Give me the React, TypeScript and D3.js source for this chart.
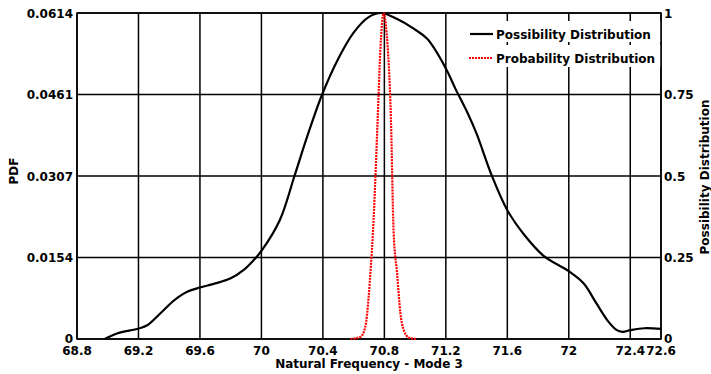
import React from "react";
import * as d3 from "d3";

const xTicks = [68.8, 69.2, 69.6, 70, 70.4, 70.8, 71.2, 71.6, 72, 72.4, 72.6];
const xTickLabels = ["68.8", "69.2", "69.6", "70", "70.4", "70.8", "71.2", "71.6", "72", "72.4", "72.6"];
const leftTicks = [0, 0.01535, 0.0307, 0.04605, 0.0614];
const leftTickLabels = ["0", "0.0154", "0.0307", "0.0461", "0.0614"];
const rightTicks = [0, 0.25, 0.5, 0.75, 1];
const rightTickLabels = ["0", "0.25", "0.5", "0.75", "1"];

// Possibility distribution (right axis)
const possFreq = [68.98, 69.06, 69.2, 69.257, 69.343, 69.43, 69.517, 69.6, 69.69, 69.8, 69.885, 69.95, 70.0, 70.12, 70.215, 70.297, 70.395, 70.5, 70.6, 70.7, 70.78, 70.88, 70.98, 71.08, 71.2, 71.262, 71.34, 71.4, 71.5, 71.6, 71.706, 71.836, 72.0, 72.096, 72.18, 72.25, 72.31, 72.35, 72.4, 72.49, 72.6];
const possValues = [0, 0.017, 0.032, 0.042, 0.079, 0.118, 0.145, 0.158, 0.169, 0.186, 0.212, 0.242, 0.27, 0.365, 0.5, 0.62, 0.75, 0.86, 0.94, 0.988, 1.0, 0.982, 0.955, 0.92, 0.83, 0.768, 0.695, 0.63, 0.5, 0.395, 0.322, 0.255, 0.208, 0.171, 0.109, 0.058, 0.028, 0.022, 0.027, 0.033, 0.031];

// Probability distribution PDF (left axis)
const probFreq = [70.58, 70.645, 70.676, 70.698, 70.713, 70.726, 70.756, 70.774, 70.795, 70.815, 70.843, 70.86, 70.883, 70.904, 70.926, 70.958, 71.01];
const probValues = [0, 0.0004, 0.0023, 0.008, 0.0141, 0.0203, 0.0411, 0.0545, 0.0614, 0.0575, 0.0411, 0.0203, 0.0123, 0.0049, 0.0017, 0.0003, 0];

const FONT = "'DejaVu Sans', Verdana, sans-serif";

export default function App() {
  const left = 77, right = 661, top = 13, bottom = 339;
  const x = d3.scaleLinear().domain([68.8, 72.6]).range([left, right]);
  const yL = d3.scaleLinear().domain([0, 0.0614]).range([bottom, top]);
  const yR = d3.scaleLinear().domain([0, 1]).range([bottom, top]);

  const possLine = d3
    .line<number>()
    .x((_, i) => x(possFreq[i]))
    .y((d) => Math.min(bottom, Math.max(top, yR(d))))
    .curve(d3.curveCatmullRom.alpha(0.5))(possValues) as string;
  const probLine = d3
    .line<number>()
    .x((_, i) => x(probFreq[i]))
    .y((d) => yL(d))
    .curve(d3.curveMonotoneX)(probValues) as string;

  return (
    <svg
      width={711}
      height={374}
      style={{ position: "fixed", left: 0, top: 0, background: "#fff" }}
      fontFamily={FONT}
      fontWeight="bold"
      fontSize={12}
    >
      <rect x={0} y={0} width={711} height={374} fill="#fff" />
      {/* grid */}
      {xTicks.map((t) => (
        <line key={"gx" + t} x1={x(t)} x2={x(t)} y1={top} y2={bottom} stroke="#000" strokeWidth={1.5} />
      ))}
      {leftTicks.map((t) => (
        <line key={"gy" + t} x1={left} x2={right} y1={yL(t)} y2={yL(t)} stroke="#000" strokeWidth={1.5} />
      ))}
      {/* legend background */}
      <rect x={465} y={21} width={right - 465} height={21} fill="#fff" />
      <rect x={465} y={45} width={right - 465} height={22} fill="#fff" />
      {/* frame */}
      <rect x={left} y={top} width={right - left} height={bottom - top} fill="none" stroke="#000" strokeWidth={1.5} />
      {/* curves */}
      <path d={possLine} fill="none" stroke="#000" strokeWidth={2.2} />
      <path d={probLine} fill="none" stroke="#f00" strokeWidth={2.2} strokeDasharray="2,1" />
      {/* legend */}
      <line x1={470} x2={493} y1={34} y2={34} stroke="#000" strokeWidth={2.2} />
      <text x={496} y={38.5}>Possibility Distribution</text>
      <line x1={469} x2={493} y1={58} y2={58} stroke="#f00" strokeWidth={2.2} strokeDasharray="2,1" />
      <text x={496} y={62.5}>Probability Distribution</text>
      {/* x tick labels */}
      {xTicks.map((t, i) => (
        <text key={"xl" + t} x={x(t)} y={354.5} textAnchor="middle">
          {xTickLabels[i]}
        </text>
      ))}
      {/* left tick labels */}
      {leftTicks.map((t, i) => (
        <text key={"ll" + t} x={73} y={yL(t) + (i === 0 ? 3.5 : 4.5)} textAnchor="end">
          {leftTickLabels[i]}
        </text>
      ))}
      {/* right tick labels */}
      {rightTicks.map((t, i) => (
        <text key={"rl" + t} x={664} y={yR(t) + (i === 0 ? 3.5 : 4.5)} textAnchor="start">
          {rightTickLabels[i]}
        </text>
      ))}
      {/* axis titles */}
      <text x={369} y={368} textAnchor="middle">Natural Frequency - Mode 3</text>
      <text transform="translate(18,171) rotate(-90)" textAnchor="middle">PDF</text>
      <text transform="translate(709,177) rotate(-90)" textAnchor="middle">Possibility Distribution</text>
    </svg>
  );
}
